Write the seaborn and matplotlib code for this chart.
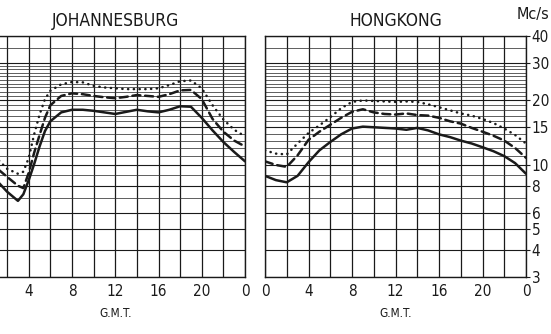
import pandas as pd
import matplotlib
matplotlib.use('Agg')
import matplotlib.pyplot as plt
import seaborn as sns

# hours G.M.T. and frequencies in Mc/s
jhb_hours = [1, 2, 3, 3.5, 4, 4.5, 5, 5.5, 6, 7, 8, 9, 10, 11, 12, 13, 14, 15, 16,
             17, 18, 19, 20, 21, 22, 23, 24]
jhb_solid = [8.5, 7.5, 6.8, 7.3, 8.5, 10.1, 12.2, 14.4, 16.0, 17.6, 18.1, 18.1, 17.9,
             17.6, 17.3, 17.7, 18.1, 17.8, 17.6, 18.1, 18.8, 18.7, 16.6, 14.5, 12.8, 11.5, 10.4]
jhb_dashed = [9.7, 8.8, 8.0, 7.8, 9.2, 11.4, 13.8, 16.6, 19.0, 21.0, 21.6, 21.4, 21.0,
              20.7, 20.5, 20.8, 21.2, 21.0, 20.8, 21.4, 22.3, 22.4, 20.3, 16.4, 14.3, 13.0, 12.2]
jhb_dotted = [10.8, 9.6, 9.1, 9.3, 10.8, 13.9, 17.2, 20.3, 22.2, 23.8, 24.4, 24.3, 23.4,
              23.0, 22.8, 22.6, 22.6, 22.6, 22.8, 23.6, 24.6, 24.8, 22.8, 19.0, 16.3, 14.6, 13.6]

hk_hours = list(range(0, 25))
hk_solid = [8.9, 8.5, 8.3, 8.9, 10.3, 11.7, 12.8, 13.9, 14.8, 15.1, 15.0, 14.9, 14.8,
            14.6, 14.9, 14.5, 13.9, 13.5, 13.0, 12.6, 12.1, 11.6, 11.0, 10.2, 9.1]
hk_dashed = [10.4, 10.0, 9.8, 11.1, 13.1, 14.3, 15.4, 16.6, 17.7, 18.2, 17.6, 17.3, 17.2,
             17.4, 17.1, 17.0, 16.6, 16.0, 15.6, 14.9, 14.3, 13.7, 13.0, 12.0, 10.8]
hk_dotted = [11.7, 11.3, 11.2, 12.6, 14.1, 15.3, 16.7, 18.4, 19.7, 20.0, 19.9, 19.8, 19.7,
             19.8, 19.7, 19.2, 18.6, 18.0, 17.4, 17.0, 16.4, 15.7, 14.8, 13.8, 12.6]

x_ticks = [0, 4, 8, 12, 16, 20, 24]
x_labels = ['0', '4', '8', '12', '16', '20', '0']
y_ticks = [3, 4, 5, 6, 8, 10, 15, 20, 30, 40]
y_minor = [7, 9, 11, 12, 13, 14, 16, 17, 18, 19] + list(range(21, 30)) + [35]

sns.set_theme(style='white')
plt.rcParams['font.family'] = ['DejaVu Sans']
plt.rcParams['font.stretch'] = 'condensed'
plt.rcParams['text.color'] = 'k'
plt.rcParams['axes.labelcolor'] = 'k'
plt.rcParams['xtick.color'] = 'k'
plt.rcParams['ytick.color'] = 'k'


def make_df(hours, solid, dashed, dotted):
    parts = []
    for name, vals in [('solid', solid), ('dashed', dashed), ('dotted', dotted)]:
        parts.append(pd.DataFrame({'hour': hours, 'freq': vals, 'curve': name}))
    return pd.concat(parts, ignore_index=True)


def draw_panel(ax, df, title, right_labels):
    ax.set_yscale('log')
    ax.set_xlim(0, 24)
    ax.set_ylim(3, 40)
    ax.set_xticks(x_ticks)
    # the left panel's first label lies outside the picture
    labels = x_labels if right_labels else [''] + x_labels[1:]
    ax.set_xticklabels(labels)
    ax.set_xticks(range(0, 25, 2), minor=True)
    ax.set_yticks(y_ticks)
    ax.set_yticks(y_minor, minor=True)
    ax.set_yticklabels([str(v) for v in y_ticks])
    ax.yaxis.set_minor_formatter(plt.NullFormatter())
    ax.grid(True, which='both', axis='x', color='k', lw=0.9)
    ax.grid(True, which='major', axis='y', color='k', lw=0.8)
    ax.grid(True, which='minor', axis='y', color='#333333', lw=0.55)
    ax.set_axisbelow(True)

    sns.lineplot(data=df, x='hour', y='freq', style='curve', color='k',
                 dashes={'solid': '', 'dashed': (3.2, 1.9), 'dotted': (0.1, 2.2)},
                 lw=1.8, dash_capstyle='round', legend=False, ax=ax)
    ax.set_ylim(3, 40)
    ax.set_xlim(0, 24)

    for s in ax.spines.values():
        s.set_color('k')
        s.set_linewidth(1.0)
    ax.tick_params(axis='x', which='both', length=0, pad=5, labelsize=11)
    ax.tick_params(axis='y', which='minor', length=0)
    if right_labels:
        ax.yaxis.tick_right()
        ax.tick_params(axis='y', which='major', length=3, width=0.8, pad=1,
                       labelsize=11, colors='k')
    else:
        ax.tick_params(axis='y', which='major', length=0, labelleft=False)
    ax.set_title(title, fontsize=12.5, pad=7)
    ax.set_xlabel('G.M.T.', fontsize=8.5, labelpad=6)
    ax.set_ylabel('')


fig = plt.figure(figsize=(5.51, 3.34), dpi=100)
ax1 = fig.add_axes([-14.5 / 551, 57 / 334, 259.5 / 551, 241 / 334])
ax2 = fig.add_axes([265 / 551, 57 / 334, 261 / 551, 241 / 334])

draw_panel(ax1, make_df(jhb_hours, jhb_solid, jhb_dashed, jhb_dotted), 'JOHANNESBURG', False)
draw_panel(ax2, make_df(hk_hours, hk_solid, hk_dashed, hk_dotted), 'HONGKONG', True)

fig.text(549 / 551, 1 - 15 / 334, 'Mc/s', ha='right', va='center', fontsize=11.5)

fig.savefig('out.png', dpi=100, facecolor='white')
plt.close(fig)
